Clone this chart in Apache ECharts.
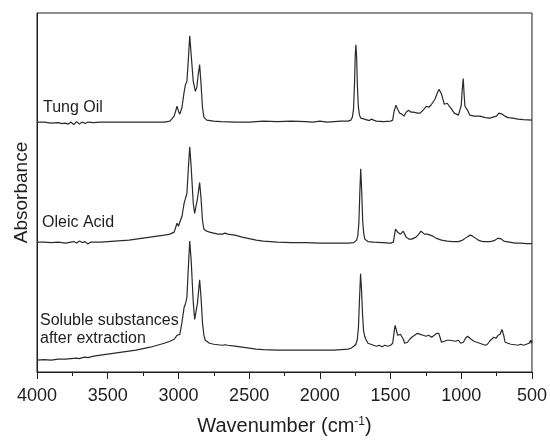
<!DOCTYPE html>
<html>
<head>
<meta charset="utf-8">
<script src="https://cdn.jsdelivr.net/npm/echarts@6/dist/echarts.min.js"></script>
<style>
html,body{margin:0;padding:0;background:#fff;}
#chart{width:550px;height:441px;}
</style>
</head>
<body>
<div id="chart"></div>
<script>
// Tick labels of the wavenumber axis
const xTicks = [4000, 3500, 3000, 2500, 2000, 1500, 1000, 500];

// Tung Oil spectrum (wavenumber, absorbance in arbitrary stacked units)
const tungWn = [4000,3950,3900,3850,3820,3800,3780,3760,3740,3720,3700,3680,3660,3640,3600,3550,3500,3400,3300,3200,3100,3060,3030,3010,3000,2990,2975,2960,2950,2940,2930,2920,2910,2895,2880,2870,2860,2850,2840,2830,2820,2800,2750,2700,2600,2500,2400,2300,2200,2100,2050,2000,1950,1900,1850,1800,1780,1770,1762,1755,1750,1745,1740,1735,1728,1720,1710,1700,1650,1635,1620,1600,1550,1500,1485,1475,1462,1450,1435,1420,1405,1390,1373,1355,1338,1310,1291,1270,1245,1230,1215,1186,1170,1158,1145,1135,1120,1110,1099,1085,1068,1050,1037,1020,1009,1000,993,986,980,974,967,960,952,939,910,868,830,798,775,751,735,723,710,692,670,634,600,560,500];
const tungAbs = [252,252,251,251.5,250.5,251,250,252,249.5,252.5,250,252,250.5,252,251.5,252,252,252,252,252,252,253,258,268,263,260,267,282,290,293,315,339,320,293,283,287,300,310,290,267,257,254,253,252.5,252,252,253,252.5,253,252.5,252,253,252,252.5,253,253,254,257,265,290,318,330,318,290,268,259,256,255,253.5,255,254,253,252.5,253,254,263,269,265,261,260,258,262,264,262,262,261,261,264,268,267,269,275,281,285,282,278,270,271,271,268,265,261,259,259,260,269,285,296,280,268,267,268,263,259,258,258,256.5,256,257,258,261,262,260,258,256.5,256,255,254.5,254];

// Oleic Acid spectrum
const oleicWn = [4000,3950,3900,3850,3800,3760,3740,3720,3700,3680,3660,3640,3620,3600,3550,3500,3450,3400,3350,3300,3250,3200,3150,3100,3060,3030,3010,3000,2990,2975,2960,2950,2940,2930,2920,2910,2895,2885,2875,2865,2850,2840,2830,2820,2800,2780,2750,2720,2690,2670,2650,2600,2550,2500,2450,2400,2350,2300,2200,2100,2000,1900,1800,1760,1740,1732,1724,1718,1711,1704,1697,1690,1682,1660,1620,1560,1500,1480,1470,1465,1458,1450,1440,1430,1420,1410,1400,1390,1380,1370,1350,1320,1300,1285,1275,1260,1240,1220,1200,1180,1160,1140,1120,1100,1060,1020,990,970,950,935,920,900,880,860,840,800,780,760,740,728,715,700,680,660,620,580,540,500];
const oleicAbs = [131,131,130.5,131,130,131,131.5,130,132,130.5,131.5,129,131,131,131,131.5,132,132.5,133,134,135,136,137,138,139,141,150,147,149,157,170,175,180,205,227,207,170,160,162,175,191,175,153,144,142,141,140,139,139,140,139,138,136,134.5,133,132,131.5,131,130.5,130.5,130,130,130,130.5,133,137,150,178,205,182,152,140,134,131.5,131,130.5,130,131,140,144,143,141,139,139,141,142,141,136,135,134,134,136,139,142,141,139,139,138,137,135,134,133,132.5,132,131.5,131.5,133,135,137,138,137,135,133,132,131.5,131.5,132,133,135,136,134,132,131.5,131,130,130,129.5,129.5];

// Soluble substances after extraction spectrum
const solubleWn = [4000,3950,3900,3850,3800,3760,3720,3700,3680,3660,3640,3600,3550,3500,3450,3400,3350,3300,3250,3200,3150,3100,3060,3030,3010,3000,2990,2975,2960,2950,2940,2930,2920,2910,2895,2885,2875,2865,2850,2840,2830,2820,2810,2800,2780,2750,2720,2690,2670,2650,2600,2550,2500,2450,2400,2300,2200,2100,2000,1900,1850,1800,1780,1760,1745,1735,1727,1720,1712,1705,1698,1691,1683,1675,1660,1640,1620,1600,1580,1560,1540,1520,1500,1485,1475,1468,1460,1450,1440,1430,1420,1410,1400,1390,1380,1365,1350,1330,1310,1290,1270,1250,1230,1210,1190,1175,1160,1150,1140,1120,1100,1080,1060,1040,1020,1005,995,985,970,955,945,930,910,890,870,850,830,815,800,785,770,755,740,725,712,705,700,690,670,650,620,600,580,560,540,520,510,505,500];
const solubleAbs = [12,12.5,12,13,13,13.5,14,13.5,14.5,15,14.5,16,17,18,19,20,21,22,23.5,25,27,29,31,33,37,35,38,50,65,69,75,105,132,113,70,53,52,70,93,75,50,37,32,30,29,28,27.5,27,27.5,27,26,25,24,23,22.5,22,22,22,22,22,22.5,23,24,26,28,33,45,72,99,82,58,42,36,33,29,28,27,26,27,25.5,27,26,27,29,40,47,43,37,39,38,38,33,29,28,30,33,35,37,39,38,37,36,37,35,37,39,39,35,30,31,32,32,31.5,31,32,29,27,30,34,36,35,33,31,30,29,28,27,28,31,33,35,34,37,38,43,45,37,30,29,28,27.5,27,28,27,28,29,32,29,32];

// Trace labels
const traceLabels = ['Tung Oil', 'Oleic Acid', 'Soluble substances\nafter extraction'];

function pairs(wn, ab) { return wn.map((w, i) => [w, ab[i]]); }

const chart = echarts.init(document.getElementById('chart'), null, {renderer: 'canvas'});
const lineColor = '#2a2a2a';
const FONT = '"Liberation Sans", Arial, sans-serif';

const mkSeries = (name, wn, ab) => ({
  name, type: 'line', data: pairs(wn, ab), showSymbol: false, symbol: 'none',
  lineStyle: {color: lineColor, width: 1.2}, silent: true, animation: false
});

chart.setOption({
  animation: false,
  backgroundColor: '#fff',
  grid: {left: 37, right: 16, top: 13, bottom: 66, show: true, borderColor: '#1e1e1e', borderWidth: 1, backgroundColor: 'transparent'},
  xAxis: {
    type: 'value', inverse: true, min: 500, max: 4000, interval: 500,
    name: 'Wavenumber (cm{sup|-1})', nameLocation: 'middle', nameGap: 44,
    nameTextStyle: {fontFamily: FONT, fontSize: 20, color: '#1e1e1e', rich: {sup: {fontFamily: FONT, fontSize: 12, verticalAlign: 'top', color: '#1e1e1e'}}},
    axisLine: {show: true, onZero: false, lineStyle: {color: '#1e1e1e', width: 1}},
    axisTick: {show: true, inside: false, length: 7, lineStyle: {color: '#1e1e1e'}},
    minorTick: {show: true, splitNumber: 2, length: 4, lineStyle: {color: '#1e1e1e'}},
    axisLabel: {fontFamily: FONT, fontSize: 18, color: '#1e1e1e', margin: 15,
      formatter: v => xTicks.includes(v) ? String(v) : ''},
    splitLine: {show: false}
  },
  yAxis: {
    type: 'value', min: 0, max: 362,
    name: 'Absorbance', nameLocation: 'middle', nameGap: 6,
    nameTextStyle: {fontFamily: FONT, fontSize: 19, color: '#1e1e1e'},
    axisLine: {show: true, onZero: false, lineStyle: {color: '#1e1e1e', width: 1}},
    axisTick: {show: false}, axisLabel: {show: false}, splitLine: {show: false}
  },
  series: [
    mkSeries('Tung Oil', tungWn, tungAbs),
    mkSeries('Oleic Acid', oleicWn, oleicAbs),
    mkSeries('Soluble substances after extraction', solubleWn, solubleAbs)
  ],
  graphic: [
    {type: 'text', left: 43, top: 100, style: {text: traceLabels[0], font: '16px ' + FONT, fill: '#1e1e1e'}},
    {type: 'text', left: 42, top: 215, style: {text: traceLabels[1], font: '16px ' + FONT, fill: '#1e1e1e'}},
    {type: 'text', left: 40, top: 311, style: {text: traceLabels[2], font: '16px ' + FONT, fill: '#1e1e1e', lineHeight: 18.5}}
  ]
});
</script>
</body>
</html>
